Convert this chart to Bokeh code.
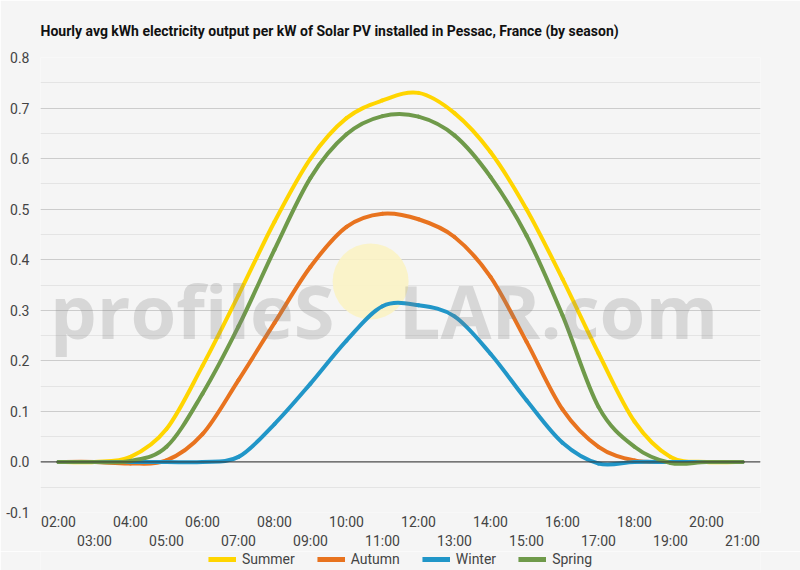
from bokeh.plotting import figure
from bokeh.layouts import column
from bokeh.models import (Range1d, LinearAxis, FixedTicker, Legend, LegendItem,
                          Label, Span)
from bokeh.embed import file_html
from bokeh.resources import INLINE

# hourly averages (kWh per kW installed)
hours = list(range(2, 22))
summer = [0.0, 0.0, 0.01, 0.065, 0.19, 0.33, 0.475, 0.6, 0.68, 0.715,
          0.73, 0.69, 0.613, 0.5, 0.362, 0.215, 0.08, 0.01, 0.0, 0.0]
autumn = [0.0, 0.0, -0.003, 0.003, 0.055, 0.162, 0.275, 0.386, 0.465, 0.491,
          0.48, 0.445, 0.366, 0.238, 0.104, 0.03, 0.003, 0.0, 0.0, 0.0]
winter = [0.0, 0.0, 0.0, 0.0, 0.0, 0.01, 0.075, 0.155, 0.24, 0.308,
          0.31, 0.288, 0.214, 0.122, 0.038, -0.003, 0.0, 0.0, 0.0, 0.0]
spring = [0.0, 0.0, 0.002, 0.03, 0.135, 0.268, 0.42, 0.562, 0.648, 0.684,
          0.683, 0.646, 0.564, 0.448, 0.29, 0.109, 0.03, -0.002, 0.0, 0.0]

series = [("Summer", summer, "#ffd500"),
          ("Autumn", autumn, "#e8731f"),
          ("Winter", winter, "#2196c8"),
          ("Spring", spring, "#6f9a4a")]

hour_labels = {h: "%02d:00" % h for h in hours}
y_ticks = [round(i * 0.1, 1) for i in range(-1, 9)]
y_minor = [round(i * 0.05, 2) for i in range(-2, 17)]

BG = "#f5f5f5"
FONT = "Roboto"

p = figure(width=800, height=551, x_range=Range1d(1.5, 21.5),
           y_range=Range1d(-0.1, 0.8), x_axis_type=None,
           output_backend="svg", toolbar_location=None,
           min_border_left=40, min_border_right=40,
           min_border_top=57, min_border_bottom=39)
p.background_fill_color = BG
p.border_fill_color = BG
p.outline_line_color = None

p.title.text = ("Hourly avg kWh electricity output per kW of Solar PV "
                "installed in Pessac, France (by season)")
p.title.text_font = FONT
p.title.text_font_size = "14px"
p.title.text_font_style = "bold"
p.title.text_color = "#111111"
p.title.align = "left"
p.title.standoff = 37

# y axis
p.yaxis.ticker = FixedTicker(ticks=y_ticks, minor_ticks=y_minor)
p.yaxis.major_label_overrides = {t: "%.1f" % t for t in y_ticks}
p.yaxis.axis_line_color = None
p.yaxis.major_tick_line_color = None
p.yaxis.minor_tick_line_color = None
p.yaxis.major_tick_out = 0
p.yaxis.major_label_text_font = FONT
p.yaxis.major_label_text_font_size = "14px"
p.yaxis.major_label_text_color = "#444444"
p.yaxis.major_label_standoff = 7
p.ygrid.grid_line_color = "#cccccc"
p.ygrid.minor_grid_line_color = "#e4e4e4"

# two rows of hour labels: even hours above, odd hours below
for row, standoff in ((0, 1), (1, 0)):
    ax = LinearAxis(ticker=FixedTicker(ticks=[h for h in hours if h % 2 == row]),
                    major_label_overrides=hour_labels)
    ax.axis_line_color = None
    ax.major_tick_line_color = None
    ax.minor_tick_line_color = None
    ax.major_tick_out = 0
    ax.major_label_standoff = standoff
    ax.major_label_text_font = FONT
    ax.major_label_text_font_size = "14px"
    ax.major_label_text_color = "#444444"
    p.add_layout(ax, "below")

p.add_layout(Span(location=0, dimension="width", line_color="#333333",
                  line_width=1))

# watermark sun
p.scatter([10.67], [0.357], size=76, fill_color="#fbf3c4",
          fill_alpha=0.9, line_color=None)


def smooth(xs, ys):
    # cubic bezier control points for a Catmull-Rom curve through the data
    n = len(xs)
    out = {k: [] for k in ("x0", "y0", "x1", "y1", "cx0", "cy0", "cx1", "cy1")}
    for i in range(n - 1):
        a = max(i - 1, 0)
        d = min(i + 2, n - 1)
        out["x0"].append(xs[i])
        out["y0"].append(ys[i])
        out["x1"].append(xs[i + 1])
        out["y1"].append(ys[i + 1])
        out["cx0"].append(xs[i] + (xs[i + 1] - xs[a]) / 6)
        out["cy0"].append(ys[i] + (ys[i + 1] - ys[a]) / 6)
        out["cx1"].append(xs[i + 1] - (xs[d] - xs[i]) / 6)
        out["cy1"].append(ys[i + 1] - (ys[d] - ys[i]) / 6)
    return out


for name, vals, color in series:
    p.bezier(source=smooth(hours, vals), x0="x0", y0="y0", x1="x1",
             y1="y1", cx0="cx0", cy0="cy0", cx1="cx1", cy1="cy1",
             line_color=color, line_width=4, line_cap="round")

# watermark text
for txt, x, align in (("profileS", 9.667, "right"), ("LAR.com", 11.45, "left")):
    p.add_layout(Label(x=x, y=0.30, text=txt, text_align=align,
                       text_baseline="alphabetic", text_font="Open Sans",
                       text_font_style="bold", text_font_size="74px",
                       text_color="#808080", text_alpha=0.25))

# legend strip underneath (its own range keeps the proxy lines out of view)
lg = figure(width=800, height=19, x_range=Range1d(-1, 0), y_range=Range1d(0, 1),
            x_axis_type=None, y_axis_type=None, output_backend="svg",
            toolbar_location=None, min_border=0)
lg.background_fill_color = BG
lg.border_fill_color = BG
lg.outline_line_color = None
lg.grid.visible = False
items = []
for name, vals, color in series:
    r = lg.line(hours, vals, line_color=color, line_width=5)
    items.append(LegendItem(label=name, renderers=[r]))

legend = Legend(items=items, orientation="horizontal", location="top_center")
legend.background_fill_alpha = 0
legend.border_line_color = None
legend.padding = 0
legend.margin = 0
legend.spacing = 22
legend.glyph_width = 28
legend.glyph_height = 14
legend.label_standoff = 6
legend.label_text_font = FONT
legend.label_text_font_size = "14px"
legend.label_text_color = "#444444"
legend.label_height = 14
lg.add_layout(legend, "center")

page = column(p, lg, spacing=0)
open("out.html", "w").write(file_html(page, INLINE))
